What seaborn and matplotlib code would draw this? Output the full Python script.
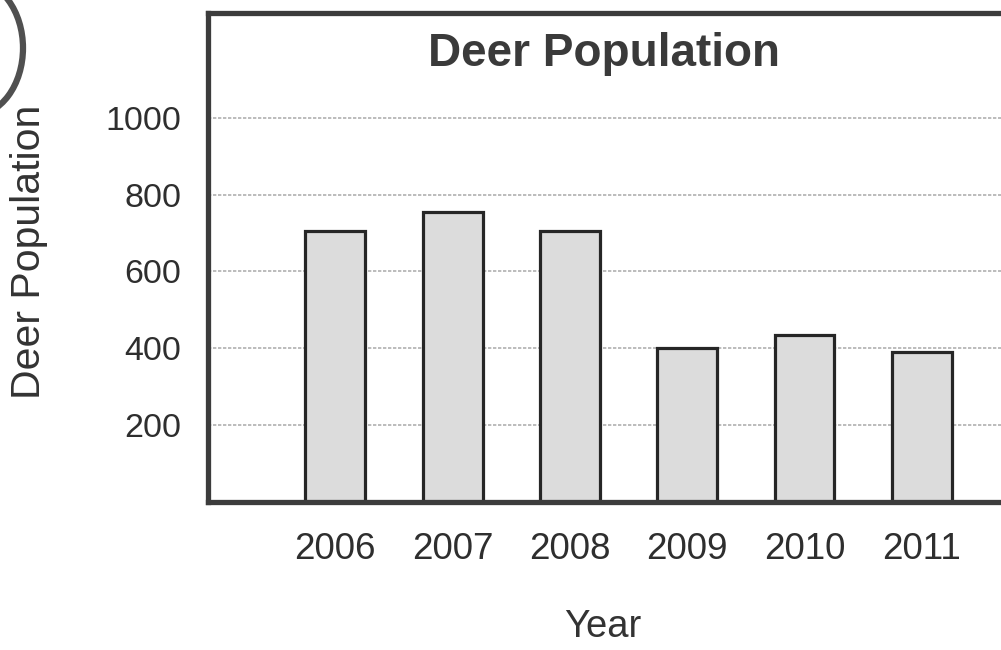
import matplotlib
matplotlib.use("Agg")
import matplotlib.pyplot as plt
from matplotlib.patches import Ellipse
import seaborn as sns
import pandas as pd

# Deer counts per year
years = ["2006", "2007", "2008", "2009", "2010", "2011"]
population = [705, 755, 705, 400, 435, 390]
y_ticks = [200, 400, 600, 800, 1000]

sns.set_style("white")
plt.rcParams["font.family"] = ["Liberation Sans", "DejaVu Sans"]

W, H = 1001, 650
fig = plt.figure(figsize=(W / 100, H / 100), dpi=100)

# axes box in pixel terms: left 208, top 13, bottom 501.75, right runs off the page
left, right, top, bottom = 208, 1004, 13, 501.75
ax = fig.add_axes([left / W, 1 - bottom / H, (right - left) / W, (bottom - top) / H])

df = pd.DataFrame({"Year": years, "Deer Population": population})
sns.barplot(data=df, x="Year", y="Deer Population", ax=ax,
            color="#dcdcdc", saturation=1, width=0.51,
            edgecolor="#262626", linewidth=2.3)

ax.set_xlim(-1.085, 5.7)
ax.set_ylim(0, 1273)
ax.set_yticks(y_ticks)
ax.set_yticklabels([str(v) for v in y_ticks])

ax.set_axisbelow(True)
ax.yaxis.grid(True, color="#b0b0b0", linewidth=1.2, linestyle=(0, (2, 1)))
ax.xaxis.grid(False)

for side in ["left", "bottom", "top"]:
    ax.spines[side].set_visible(True)
    ax.spines[side].set_color("#3c3c3c")
    ax.spines[side].set_linewidth(3.8)
ax.spines["right"].set_visible(False)

ax.tick_params(axis="y", length=0, pad=19, labelsize=24.5, labelcolor="#2e2e2e")
ax.tick_params(axis="x", length=0, pad=22, labelsize=26.5, labelcolor="#2e2e2e")

ax.set_xlabel("")
ax.set_ylabel("")
fig.text(29 / W, 1 - 252 / H, "Deer Population", rotation=90, ha="center",
         va="center", fontsize=29.5, color="#333333")
fig.text(603 / W, 1 - 627 / H, "Year", ha="center", va="center",
         fontsize=27.5, color="#333333")
fig.text(604 / W, 1 - 54 / H, "Deer Population", ha="center", va="center",
         fontsize=33, fontweight="bold", color="#3a3a3a")

# hand-drawn ring in the top-left corner
ring = Ellipse((-27 / W, 1 - 48 / H), 100 / W, 135 / H, transform=fig.transFigure,
               fill=False, edgecolor="#505050", linewidth=4.5, clip_on=False)
fig.patches.append(ring)

fig.savefig("out.png", dpi=100)
